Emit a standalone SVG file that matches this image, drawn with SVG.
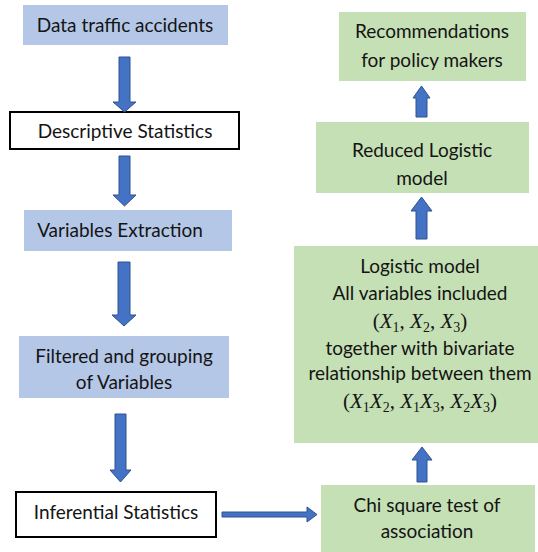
<svg xmlns="http://www.w3.org/2000/svg" width="538" height="552" viewBox="0 0 538 552">
<defs>
<style>
.blue{fill:#b4c7e7}
.green{fill:#c5e0b4}
.white{fill:#fff;stroke:#000;stroke-width:2}
.t{font-family:Lato,"Open Sans",sans-serif;font-size:19px;fill:#141414;text-anchor:middle}
.m{font-family:"Liberation Serif",serif;font-size:21px;fill:#141414;text-anchor:middle}
.i{font-style:italic}
.sub{font-size:14px}
.arr{fill:#4472c4;stroke:#2f528f;stroke-width:1}
</style>
</defs>
<rect width="538" height="552" fill="#fff"/>
<g id="n1"><rect class="blue" x="23" y="5" width="205" height="40"/><text class="t" x="125" y="32">Data traffic accidents</text></g>
<g id="n2"><rect class="white" x="10" y="112" width="229" height="37"/><text class="t" x="125" y="138">Descriptive Statistics</text></g>
<g id="n3"><rect class="blue" x="24" y="210" width="208" height="41"/><text class="t" x="120" y="237">Variables Extraction</text></g>
<g id="n4"><rect class="blue" x="19" y="336" width="210" height="62"/><text class="t" x="124" y="363">Filtered and grouping</text><text class="t" x="124" y="389">of Variables</text></g>
<g id="n5"><rect class="white" x="16" y="492" width="200" height="45"/><text class="t" x="116" y="519">Inferential Statistics</text></g>
<g id="n6"><rect class="green" x="321" y="485" width="214" height="67"/><text class="t" x="427" y="512">Chi square test of</text><text class="t" x="427" y="538">association</text></g>
<g id="n7"><rect class="green" x="294" y="246" width="244" height="197"/>
<text class="t" x="420" y="273">Logistic model</text>
<text class="t" x="420" y="300">All variables included</text>
<text class="m" x="420" y="328">(<tspan class="i">X</tspan><tspan class="sub" dy="4">1</tspan><tspan dy="-4">, </tspan><tspan class="i">X</tspan><tspan class="sub" dy="4">2</tspan><tspan dy="-4">, </tspan><tspan class="i">X</tspan><tspan class="sub" dy="4">3</tspan><tspan dy="-4">)</tspan></text>
<text class="t" x="420" y="355">together with bivariate</text>
<text class="t" x="420" y="380">relationship between them</text>
<text class="m" x="420" y="408">(<tspan class="i">X</tspan><tspan class="sub" dy="4">1</tspan><tspan class="i" dy="-4">X</tspan><tspan class="sub" dy="4">2</tspan><tspan dy="-4">, </tspan><tspan class="i">X</tspan><tspan class="sub" dy="4">1</tspan><tspan class="i" dy="-4">X</tspan><tspan class="sub" dy="4">3</tspan><tspan dy="-4">, </tspan><tspan class="i">X</tspan><tspan class="sub" dy="4">2</tspan><tspan class="i" dy="-4">X</tspan><tspan class="sub" dy="4">3</tspan><tspan dy="-4">)</tspan></text>
</g>
<g id="n8"><rect class="green" x="316" y="122" width="213" height="71"/><text class="t" x="422" y="157">Reduced Logistic</text><text class="t" x="422" y="185">model</text></g>
<g id="n9"><rect class="green" x="339" y="12" width="187" height="69"/><text class="t" x="432" y="38">Recommendations</text><text class="t" x="432" y="67">for policy makers</text></g>
<g id="connectors">
<path class="arr" d="M119,57 H130 V102 H136 L124.5,112 L113,102 H119 Z"/>
<path class="arr" d="M119,156 H130 V195 H136 L124.5,206 L113,195 H119 Z"/>
<path class="arr" d="M118,262 H130 V315 H136 L124,326 L112,315 H118 Z"/>
<path class="arr" d="M115,414 H126 V470 H131 L120.5,482 L110,470 H115 Z"/>
<path class="arr" d="M222,512 H307 V507 L317,514.5 L307,522 V517 H222 Z"/>
<path class="arr" d="M417,482 H427 V460 H432 L422,447 L412,460 H417 Z"/>
<path class="arr" d="M416,239 H427 V211 H432 L421.5,197 L411,211 H416 Z"/>
<path class="arr" d="M416,117 H427 V98 H430 L421.5,86 L413,98 H416 Z"/>
</g>
</svg>
